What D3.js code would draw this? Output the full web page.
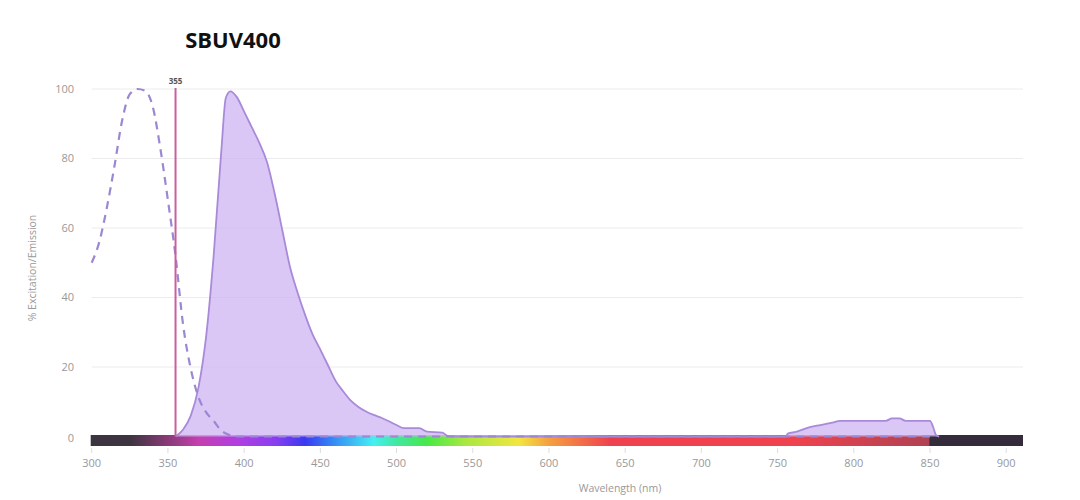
<!DOCTYPE html>
<html>
<head>
<meta charset="utf-8">
<script src="https://cdn.jsdelivr.net/npm/d3@7"></script>
<style>
  body { margin: 0; background: #fff; }
  svg { display: block; font-family: "Open Sans", sans-serif; }
</style>
</head>
<body>
<div id="chart"></div>
<script>
// excitation (dashed) spectrum
var exWl  = [300, 305, 310, 315, 320, 325, 330, 335, 340, 345, 350, 355, 360, 365, 370, 375, 380, 385, 390, 395, 850];
var exVal = [50, 56, 66, 78, 91, 98.5, 100, 99.5, 95, 83, 68, 52, 32, 19.5, 11.4, 7, 4.5, 1.7, 0.5, 0, 0];

// emission (filled) spectrum
var emWl  = [355, 360, 365, 370, 375, 380, 385, 388, 391, 395, 400, 405, 410, 415, 420, 425, 430, 435, 440, 445, 450, 455, 460, 465, 470, 475, 480, 485, 490, 495, 500, 505, 515, 520, 530, 533, 536, 755, 757, 762, 769, 778, 786, 791, 821, 825, 830, 834, 850, 852, 854, 856];
var emVal = [0, 2, 6, 14, 28.5, 52, 82, 97.5, 99.3, 97.8, 93.5, 89, 84.5, 79, 70, 59.5, 49, 41.5, 35, 29.3, 25, 20.5, 16, 13, 10.3, 8.5, 7.2, 6.2, 5.4, 4.4, 3.3, 2.4, 2.4, 1.4, 1.1, 0.3, 0, 0, 0.9, 1.3, 2.4, 3.3, 4, 4.5, 4.5, 5.2, 5.2, 4.5, 4.5, 2.8, 0.4, 0];

var laserWl = 355;
var xTicks = [300, 350, 400, 450, 500, 550, 600, 650, 700, 750, 800, 850, 900];
var yTicks = [0, 20, 40, 60, 80, 100];

// spectrum bar colour stops (wavelength, colour)
var barWl  = [300, 325, 350, 370, 395, 420, 440, 460, 485, 500, 520, 545, 580, 600, 640, 760, 849, 850, 911];
var barCol = ["#3b3540", "#3d3440", "#8a3a78", "#c43fb0", "#b13fe0", "#8a3ef0", "#3a3af0", "#3590f5", "#45f0f0", "#40e8a0", "#48e848", "#a8e840", "#f2e640", "#f5a040", "#f0424e", "#f0424e", "#b04252", "#342c3a", "#342c3a"];

var W = 1080, H = 500;
var svg = d3.select("#chart").append("svg").attr("width", W).attr("height", H);

var x = d3.scaleLinear().domain([300, 911]).range([91.7, 1023]);
var y = d3.scaleLinear().domain([0, 100]).range([436.5, 89]);

// gridlines
svg.append("g").selectAll("line").data(yTicks.filter(function(d){ return d > 0; }))
  .enter().append("line")
  .attr("x1", x(300)).attr("x2", x(911))
  .attr("y1", function(d){ return y(d); }).attr("y2", function(d){ return y(d); })
  .attr("stroke", "#ececec").attr("stroke-width", 1);

// y tick labels
svg.append("g").selectAll("text").data(yTicks).enter().append("text")
  .attr("x", 74).attr("y", function(d){ return y(d) + (d === 0 ? 2 : 0); })
  .attr("dy", "0.35em").attr("text-anchor", "end")
  .attr("font-size", 11).attr("fill", "#999")
  .text(function(d){ return d; });

// spectrum bar
var defs = svg.append("defs");
var grad = defs.append("linearGradient").attr("id", "spec")
  .attr("gradientUnits", "userSpaceOnUse")
  .attr("x1", x(300)).attr("x2", x(911)).attr("y1", 0).attr("y2", 0);
grad.selectAll("stop").data(barWl).enter().append("stop")
  .attr("offset", function(d){ return (x(d) - x(300)) / (x(911) - x(300)); })
  .attr("stop-color", function(d, i){ return barCol[i]; });

svg.append("rect")
  .attr("x", x(300) - 1).attr("y", y(0) - 1.5)
  .attr("width", x(911) - x(300) + 1).attr("height", 11)
  .attr("fill", "url(#spec)");

// x ticks + labels
var xg = svg.append("g");
xg.selectAll("line").data(xTicks).enter().append("line")
  .attr("x1", function(d){ return x(d); }).attr("x2", function(d){ return x(d); })
  .attr("y1", 448).attr("y2", 453)
  .attr("stroke", "#dddddd");
xg.selectAll("text").data(xTicks).enter().append("text")
  .attr("x", function(d){ return x(d); }).attr("y", 463)
  .attr("dy", "0.35em").attr("text-anchor", "middle")
  .attr("font-size", 11).attr("fill", "#999")
  .text(function(d){ return d; });

// emission area
var em = emWl.map(function(d, i){ return [d, emVal[i]]; });
var area = d3.area()
  .x(function(d){ return x(d[0]); })
  .y0(y(0)).y1(function(d){ return y(d[1]); })
  .curve(d3.curveMonotoneX);
var line = d3.line()
  .x(function(d){ return x(d[0]); })
  .y(function(d){ return y(d[1]); })
  .curve(d3.curveMonotoneX);

svg.append("path").datum(em).attr("d", area)
  .attr("fill", "#cdb4f3").attr("fill-opacity", 0.75);
svg.append("path").datum(em).attr("d", line)
  .attr("fill", "none").attr("stroke", "#a88ad9").attr("stroke-width", 1.8);

// excitation dashed line
var ex = exWl.map(function(d, i){ return [d, exVal[i]]; });
svg.append("path").datum(ex).attr("d", line)
  .attr("fill", "none").attr("stroke", "#9c88d2").attr("stroke-width", 2.2)
  .attr("stroke-dasharray", "8,6");

// laser line
svg.append("line")
  .attr("x1", x(laserWl)).attr("x2", x(laserWl))
  .attr("y1", y(100) - 1).attr("y2", y(0))
  .attr("stroke", "#c8609e").attr("stroke-width", 2);
svg.append("text")
  .attr("x", x(laserWl)).attr("y", 84)
  .attr("text-anchor", "middle").attr("font-size", 8).attr("font-weight", "bold")
  .attr("fill", "#555").text(laserWl);

// title
svg.append("text")
  .attr("x", 233).attr("y", 48)
  .attr("text-anchor", "middle").attr("font-size", 22).attr("font-weight", "bold")
  .attr("fill", "#111").text("SBUV400");

// axis titles
svg.append("text")
  .attr("transform", "translate(32,268) rotate(-90)")
  .attr("text-anchor", "middle").attr("dy", "0.35em")
  .attr("font-size", 10.5).attr("fill", "#999")
  .text("% Excitation/Emission");
svg.append("text")
  .attr("x", 620).attr("y", 488).attr("dy", "0.35em")
  .attr("text-anchor", "middle").attr("font-size", 10.5).attr("fill", "#999")
  .text("Wavelength (nm)");
</script>
</body>
</html>
